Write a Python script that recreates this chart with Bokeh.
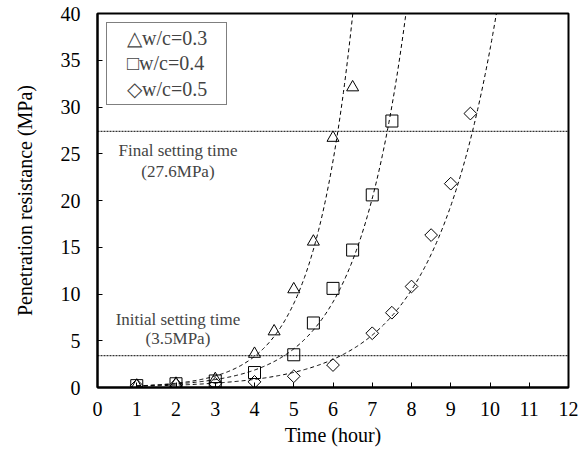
import numpy as np
from bokeh.plotting import figure
from bokeh.models import Range1d, Legend, LegendItem, FixedTicker, Label, Span
from bokeh.embed import file_html
from bokeh.resources import INLINE

# Data
t03 = [1, 2, 3, 4, 4.5, 5, 5.5, 6, 6.5]
r03 = [0.2, 0.4, 0.9, 3.6, 6.0, 10.5, 15.6, 26.7, 32.1]
t04 = [1, 2, 3, 4, 5, 5.5, 6, 6.5, 7, 7.5]
r04 = [0.2, 0.4, 0.7, 1.6, 3.5, 6.9, 10.6, 14.7, 20.6, 28.5]
t05 = [1, 2, 3, 4, 5, 6, 7, 7.5, 8, 8.5, 9, 9.5]
r05 = [0.2, 0.3, 0.4, 0.6, 1.2, 2.4, 5.8, 8.0, 10.8, 16.3, 21.8, 29.3]
labels = ["\u25b3w/c=0.3", "\u25a1w/c=0.4", "\u25c7w/c=0.5"]
thresholds = [27.4, 3.4]
threshold_text = [("Final setting time", "(27.6MPa)"), ("Initial setting time", "(3.5MPa)")]
x_ticks = list(range(0, 13))
y_ticks = list(range(0, 41, 5))

FONT = "Liberation Serif"

p = figure(width=580, height=452, output_backend="svg", toolbar_location=None,
           x_range=Range1d(0, 12), y_range=Range1d(0, 40),
           min_border_left=97, min_border_right=12, min_border_top=13, min_border_bottom=65)
p.grid.visible = False
p.outline_line_color = "black"
p.outline_line_width = 2
p.background_fill_color = "white"
p.border_fill_color = "white"

for ax in (p.xaxis[0], p.yaxis[0]):
    ax.axis_line_width = 2
    ax.axis_line_color = "black"
    ax.major_tick_in = 5
    ax.major_tick_out = 0
    ax.minor_tick_in = 0
    ax.minor_tick_out = 0
    ax.major_tick_line_width = 1
    ax.major_label_text_font = FONT
    ax.major_label_text_font_size = "20px"
    ax.major_label_text_color = "black"
    ax.axis_label_text_font = FONT
    ax.axis_label_text_font_size = "20px"
    ax.axis_label_text_font_style = "normal"
    ax.axis_label_text_color = "black"

p.xaxis.ticker = FixedTicker(ticks=x_ticks)
p.yaxis.ticker = FixedTicker(ticks=y_ticks)
p.xaxis.axis_label = "Time (hour)"
p.yaxis.axis_label = "Penetration resistance (MPa)"
p.xaxis.major_label_standoff = 14
p.yaxis.major_label_standoff = 17
p.xaxis.axis_label_standoff = 5
p.yaxis.axis_label_standoff = 22

# Exponential trend lines fitted to the data
series = [(t03, r03, "triangle", 12, 0.0), (t04, r04, "square", 12, 0.0),
          (t05, r05, "square", 9, np.pi / 4)]
items = []
for (tx, ry, marker, sz, ang), lab in zip(series, labels):
    b, a = np.polyfit(np.array(tx), np.log(np.array(ry)), 1)
    xs = np.linspace(1, 12, 400)
    ys = np.exp(a + b * xs)
    p.line(xs, ys, line_color="black", line_width=1, line_dash="4 3")
    r = p.scatter(tx, ry, marker=marker, size=sz, angle=ang, fill_color=None,
                  line_color="black", line_width=1)
    items.append(LegendItem(label=lab, renderers=[r]))

# Threshold lines and annotations
for th in thresholds:
    p.add_layout(Span(location=th, dimension="width", line_color="black",
                      line_width=1, line_dash="2 1"))
for (l1, l2), y1, y2 in zip(threshold_text, [25.36, 7.25], [23.1, 5.22]):
    p.add_layout(Label(x=2.05, y=y1, text=l1, text_font=FONT, text_font_size="17px",
                       text_align="center", text_baseline="middle"))
    p.add_layout(Label(x=2.05, y=y2, text=l2, text_font=FONT, text_font_size="17px",
                       text_align="center", text_baseline="middle"))

legend = Legend(items=items, location="top_left")
legend.label_text_font = FONT
legend.label_text_font_size = "20px"
legend.border_line_color = "black"
legend.border_line_width = 1
legend.padding = 3
legend.spacing = 2
legend.glyph_width = 0
legend.glyph_height = 20
legend.label_height = 20
legend.label_standoff = 17
legend.label_width = 96
legend.margin = 9
p.add_layout(legend)

open("out.html", "w").write(file_html(p, INLINE))
